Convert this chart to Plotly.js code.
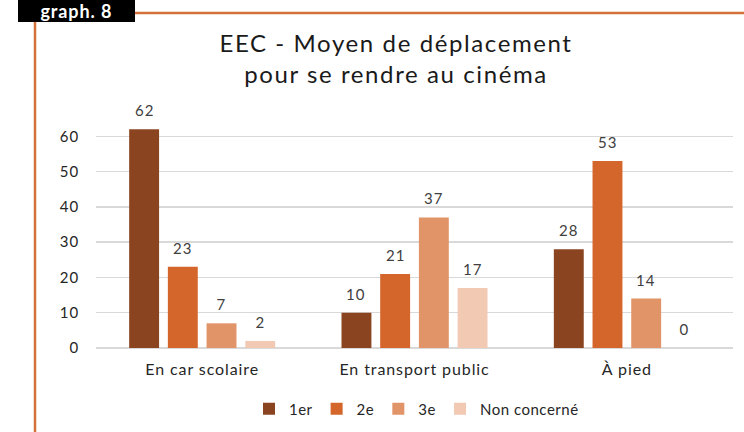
<!DOCTYPE html>
<html><head><meta charset="utf-8">
<script src="https://cdn.plot.ly/plotly-3.0.1.min.js"></script>
<style>html,body{margin:0;padding:0;background:#fff}#c{width:744px;height:432px}
#c text{letter-spacing:0.9px}
#c .gtitle{letter-spacing:1.6px}
#c .legendtext{letter-spacing:0.5px}</style>
</head><body><div id="c"></div>
<script>
const categories = ["En car scolaire", "En transport public", "À pied"];
const seriesNames = ["1er", "2e", "3e", "Non concerné"];
const v1er = [62, 10, 28];
const v2e = [23, 21, 53];
const v3e = [7, 37, 14];
const vNon = [2, 17, 0];
const yTicks = [0, 10, 20, 30, 40, 50, 60];
const colors = ["#8B4420", "#D4652B", "#E29469", "#F2CAB4"];

const W = 744, H = 432, mL = 96, mR = 11, mT = 101, mB = 84;
const pw = W - mL - mR, ph = H - mT - mB;
const px = x => (x - mL) / pw;
const py = y => 1 - (y - mT) / ph;
const font = "Lato, 'Open Sans', sans-serif";
const bargap = 0.271, bargroupgap = 0.227;

const vals = [v1er, v2e, v3e, vNon];
const traces = vals.map((v, i) => ({
  type: "bar", name: seriesNames[i], x: categories, y: v,
  marker: {color: colors[i]}
}));

// value labels placed on the axes' own coordinates
const catStep = pw / categories.length;
const slot = catStep * (1 - bargap) / vals.length;
const labels = [];
vals.forEach((v, i) => v.forEach((val, j) => labels.push({
  xref: "x", yref: "y", x: categories[j], y: val, showarrow: false,
  xshift: (i - (vals.length - 1) / 2) * slot, yshift: 19,
  yanchor: "middle", xanchor: "center", text: String(val),
  font: {family: font, size: 15, color: "#404040"}
})));

const layout = {
  width: W, height: H,
  margin: {l: mL, r: mR, t: mT, b: mB, autoexpand: false},
  paper_bgcolor: "#fff", plot_bgcolor: "#fff",
  barmode: "group", bargap: bargap, bargroupgap: bargroupgap,
  font: {family: font, color: "#262626"},
  title: {text: "EEC - Moyen de déplacement<br>pour se rendre au cinéma",
    font: {family: font, size: 24, color: "#1a1a1a"},
    x: 396 / W, xref: "container", xanchor: "center", yref: "container", y: 1 - 52/H, yanchor: "middle"},
  xaxis: {showgrid: false, showline: false, zeroline: false, ticks: "",
    ticklabelstandoff: 10, automargin: false,
    tickfont: {family: font, size: 16, color: "#262626"}},
  yaxis: {range: [0, 70], tickvals: yTicks, ticktext: yTicks.map(String),
    showgrid: true, gridcolor: "#d9d9d9", gridwidth: 1.5,
    zeroline: true, zerolinecolor: "#d9d9d9", zerolinewidth: 1.5,
    showline: false, ticks: "", ticklabelstandoff: 16, automargin: false,
    tickfont: {family: font, size: 15, color: "#262626"}},
  legend: {orientation: "h", x: px(249), xanchor: "left", y: py(409), yanchor: "middle",
    font: {family: font, size: 15, color: "#262626"}, itemwidth: 30, traceorder: "normal"},
  showlegend: true,
  shapes: [
    {type: "rect", xref: "paper", yref: "paper", x0: px(18), x1: px(135), y0: py(0), y1: py(22),
      fillcolor: "#000", line: {width: 0}, layer: "above"},
    {type: "line", xref: "paper", yref: "paper", x0: px(135), x1: px(744), y0: py(13), y1: py(13),
      line: {color: "#D4703A", width: 2.5}},
    {type: "line", xref: "paper", yref: "paper", x0: px(35), x1: px(35), y0: py(22), y1: py(432),
      line: {color: "#D4703A", width: 2.5}}
  ],
  annotations: labels.concat([
    {xref: "paper", yref: "paper", x: px(76), y: py(11), xanchor: "center", yanchor: "middle",
      text: "<b>graph. 8</b>", showarrow: false, font: {family: font, size: 18, color: "#fff"}}
  ])
};
Plotly.newPlot("c", traces, layout, {displayModeBar: false, staticPlot: true});
</script></body></html>
